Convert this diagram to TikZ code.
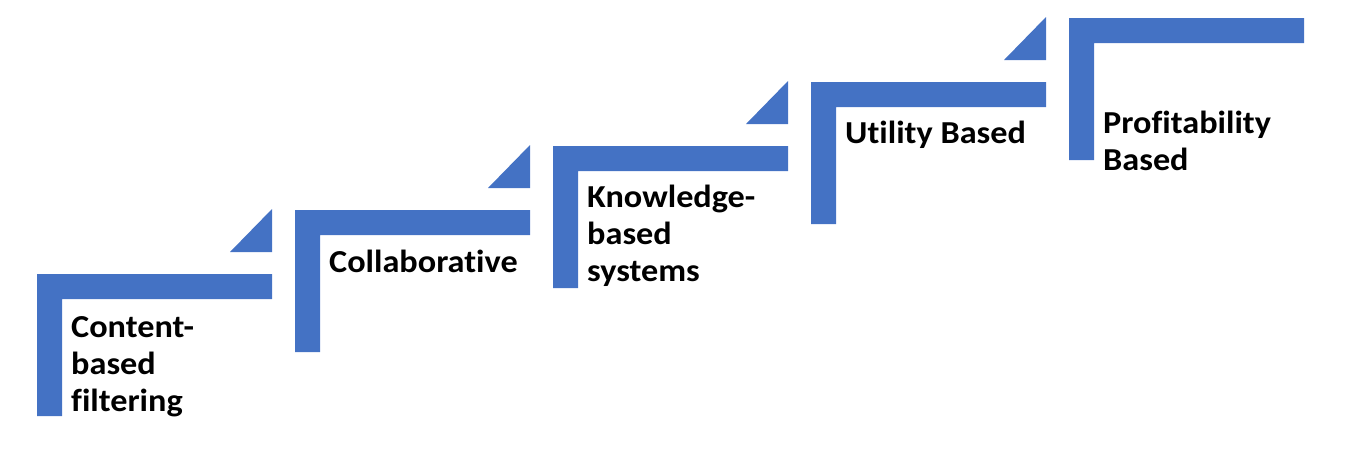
\documentclass[tikz,border=0pt]{standalone}
\usepackage{fontspec}
\setmainfont{Carlito}[FakeStretch=1.07,Ligatures=CommonOff]
\definecolor{stepblue}{HTML}{4472C4}
\begin{document}
\begin{tikzpicture}[x=1pt,y=-1pt,
  stepshape/.style={fill=stepblue,draw=none},
  steplabel/.style={anchor=base west,inner sep=0pt,font=\bfseries\fontsize{32}{37}\selectfont}]
\useasboundingbox (0,0) rectangle (1349,453);
\foreach \i in {0,...,4}{
  \pgfmathsetmacro\L{37+258*\i}
  \pgfmathsetmacro\T{274-64*\i}
  \fill[stepshape] (\L,\T) -- ++(235,0) -- ++(0,25) -- ++(-210,0) -- ++(0,117) -- ++(-25,0) -- cycle;
  \ifnum\i<4
    \fill[stepshape] (\L+235,\T-65) -- (\L+235,\T-22) -- (\L+193,\T-22) -- cycle;
  \fi
}
\node[steplabel] (s1) at (71,337) {\begin{tabular}[t]{@{}l@{}}Content-\\based\\filtering\end{tabular}};
\node[steplabel] (s2) at (329,272) {\begin{tabular}[t]{@{}l@{}}Collaborative\end{tabular}};
\node[steplabel] (s3) at (587,207) {\begin{tabular}[t]{@{}l@{}}Knowledge-\\based\\systems\end{tabular}};
\node[steplabel] (s4) at (845,143) {\begin{tabular}[t]{@{}l@{}}Utility Based\end{tabular}};
\node[steplabel] (s5) at (1103,133) {\begin{tabular}[t]{@{}l@{}}Profitability\\Based\end{tabular}};
\end{tikzpicture}
\end{document}
